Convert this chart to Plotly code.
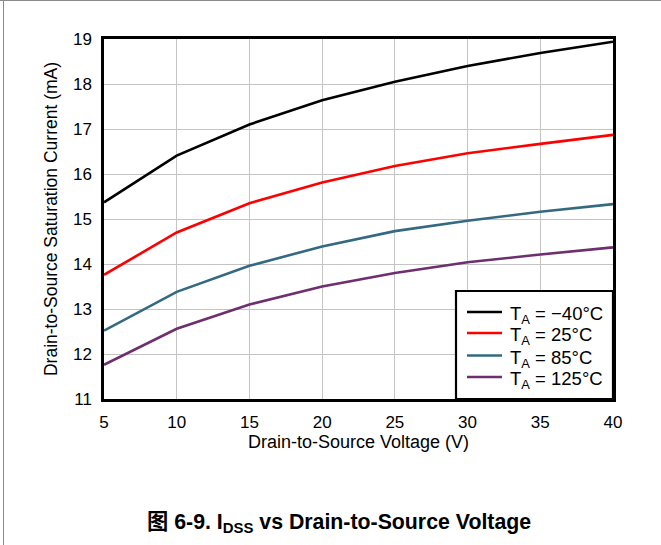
import plotly.graph_objects as go

# Drain-to-source voltage (V)
vds = [5, 10, 15, 20, 25, 30, 35, 40]

# Saturation current IDSS (mA) at each ambient temperature
idss_m40 = [15.37, 16.41, 17.10, 17.64, 18.05, 18.40, 18.69, 18.94]
idss_25 = [13.76, 14.70, 15.35, 15.81, 16.18, 16.46, 16.67, 16.87]
idss_85 = [12.52, 13.38, 13.96, 14.39, 14.73, 14.96, 15.16, 15.33]
idss_125 = [11.76, 12.56, 13.10, 13.50, 13.80, 14.04, 14.21, 14.37]

series_names = ["T<sub>A</sub> = \u221240\u00b0C", "T<sub>A</sub> = 25\u00b0C",
                "T<sub>A</sub> = 85\u00b0C", "T<sub>A</sub> = 125\u00b0C"]
series_colors = ["#000000", "#ff0000", "#336a82", "#6e2f6e"]

x_ticks = [5, 10, 15, 20, 25, 30, 35, 40]
y_ticks = [11, 12, 13, 14, 15, 16, 17, 18, 19]

FONT = "Liberation Sans, Arial, Noto Sans CJK SC, sans-serif"

fig = go.Figure()
for vals, name, color in zip([idss_m40, idss_25, idss_85, idss_125], series_names, series_colors):
    fig.add_trace(go.Scatter(x=vds, y=vals, mode="lines", name=name, showlegend=False,
                             line=dict(color=color, width=2.6)))

W, H = 661, 545
ML, MR, MT, MB = 104, 48, 39, 146
pw, ph = W - ML - MR, H - MT - MB

def px_x(px):
    return (px - ML) / pw

def px_y(py):
    return (H - MB - py) / ph

fig.update_layout(
    width=W, height=H, autosize=False,
    margin=dict(l=ML, r=MR, t=MT, b=MB),
    paper_bgcolor="white", plot_bgcolor="white",
    font=dict(family=FONT, size=17, color="#000000"),
    xaxis=dict(range=[5, 40], tickvals=x_ticks, showgrid=True, gridcolor="#c4c4c4",
               gridwidth=1, zeroline=False, showline=True, linecolor="#000000",
               linewidth=2.5, mirror=True, ticks="outside", ticklen=6,
               tickcolor="rgba(0,0,0,0)", tickfont=dict(size=17),
               title=dict(text="Drain-to-Source Voltage (V)", font=dict(size=18), standoff=3)),
    yaxis=dict(range=[11, 19], tickvals=y_ticks, showgrid=True, gridcolor="#c4c4c4",
               gridwidth=1, zeroline=False, showline=True, linecolor="#000000",
               linewidth=2.5, mirror=True, ticks="outside", ticklen=6,
               tickcolor="rgba(0,0,0,0)", tickfont=dict(size=17),
               title=dict(text="Drain-to-Source Saturation Current (mA)", font=dict(size=17.5), standoff=11)),
)

# Legend box in the lower-right corner of the plot
fig.add_shape(type="rect", xref="paper", yref="paper",
              x0=px_x(456), x1=1, y0=0, y1=px_y(291),
              fillcolor="white", line=dict(color="#000000", width=2.2), layer="above")
entry_y = [312, 333, 355.5, 377]
for yy, name, color in zip(entry_y, series_names, series_colors):
    fig.add_shape(type="line", xref="paper", yref="paper",
                  x0=px_x(467), x1=px_x(502), y0=px_y(yy), y1=px_y(yy),
                  line=dict(color=color, width=2.6), layer="above")
    fig.add_annotation(text=name, xref="paper", yref="paper",
                       x=px_x(508), y=px_y(yy + 3), xanchor="left", yanchor="middle",
                       showarrow=False, font=dict(size=18.5, family=FONT))

# Caption below the chart
fig.add_annotation(text="<b>\u56fe 6-9. I<sub>DSS</sub> vs Drain-to-Source Voltage</b>",
                   xref="paper", yref="paper", x=px_x(339), y=px_y(523),
                   xanchor="center", yanchor="middle", showarrow=False,
                   font=dict(size=21.3, family=FONT))

# Page frame lines (top and left)
fig.add_shape(type="line", xref="paper", yref="paper",
              x0=px_x(0), x1=px_x(W), y0=px_y(0.5), y1=px_y(0.5),
              line=dict(color="#8a8a8a", width=1))
fig.add_shape(type="line", xref="paper", yref="paper",
              x0=px_x(3.5), x1=px_x(3.5), y0=px_y(0), y1=px_y(H),
              line=dict(color="#8a8a8a", width=1))

fig.write_html("out.html")
